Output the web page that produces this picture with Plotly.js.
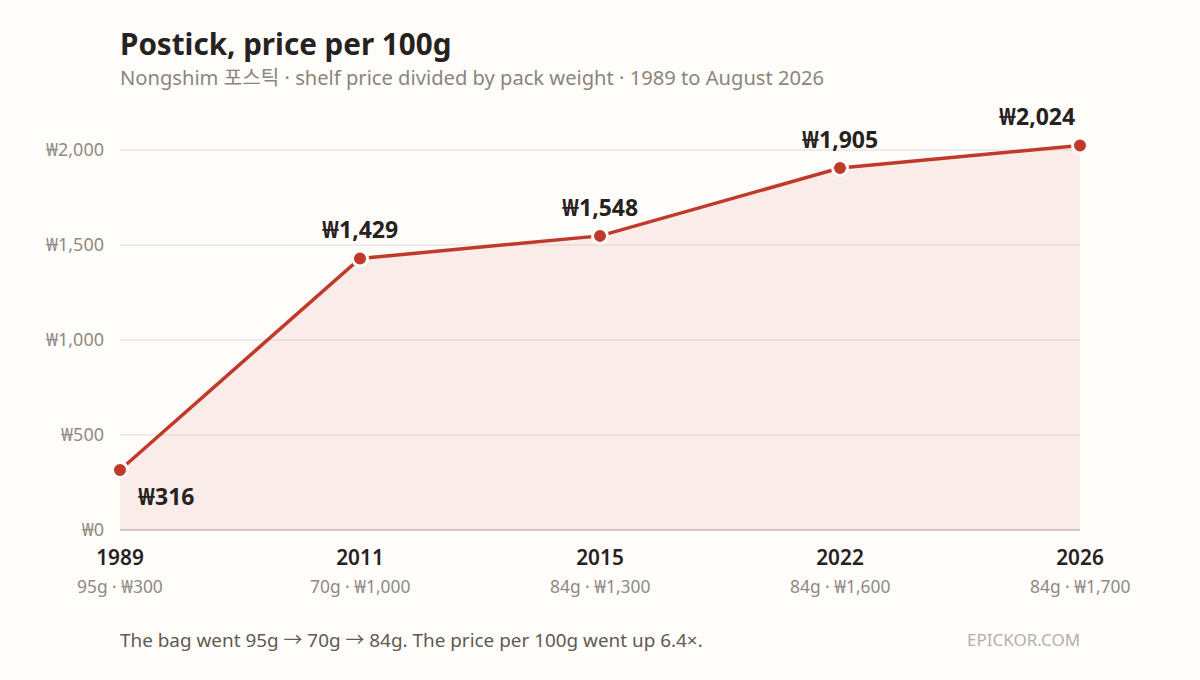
<!DOCTYPE html>
<html><head><meta charset="utf-8">
<script src="https://cdn.plot.ly/plotly-3.0.1.min.js"></script>
<style>html,body{margin:0;padding:0;background:#fffdfa}</style></head>
<body><div id="chart" style="width:1200px;height:680px"></div>
<script>
const years = ["1989","2011","2015","2022","2026"];
const pricePer100g = [316,1429,1548,1905,2024];
const priceLabels = ["₩316","₩1,429","₩1,548","₩1,905","₩2,024"];
const packInfo = ["95g · ₩300","70g · ₩1,000","84g · ₩1,300","84g · ₩1,600","84g · ₩1,700"];
const yTicks = [0,500,1000,1500,2000];
const yTickLabels = ["₩0","₩500","₩1,000","₩1,500","₩2,000"];
const labelOffsets = [[46,-26],[0,29],[0,29],[0,29],[-43,29]];

const FONT = '"Noto Sans","Noto Sans CJK KR",sans-serif';
const pY = py => (530-py)/410;

const anns = [];
years.forEach((y,i)=>{
  anns.push({x:i,y:pricePer100g[i],xref:'x',yref:'y',text:priceLabels[i],showarrow:false,
    xanchor:'center',yanchor:'middle',xshift:labelOffsets[i][0],yshift:labelOffsets[i][1],
    font:{family:FONT,size:23,color:'#26221f',weight:700}});
  anns.push({x:i,y:pY(586),xref:'x',yref:'paper',text:packInfo[i],showarrow:false,
    xanchor:'center',yanchor:'middle',font:{family:FONT,size:17.4,color:'#8f8a83'}});
});
anns.push({x:0,y:pY(77),xref:'paper',yref:'paper',xanchor:'left',yanchor:'middle',showarrow:false,xshift:-2,
  text:'Nongshim 포스틱 · shelf price divided by pack weight · 1989 to August 2026',
  font:{family:FONT,size:20.15,color:'#8a857e'}});
anns.push({x:0,y:pY(640),xref:'paper',yref:'paper',xanchor:'left',yanchor:'middle',showarrow:false,xshift:-2,
  text:'The bag went 95g → 70g → 84g. The price per 100g went up 6.4×.',
  font:{family:FONT,size:18.9,color:'#5f5a54'}});
anns.push({x:1,y:pY(639),xref:'paper',yref:'paper',xanchor:'right',yanchor:'middle',showarrow:false,xshift:2,
  text:'EPICKOR.COM',font:{family:FONT,size:17,color:'#b5b0a9'}});

Plotly.newPlot('chart',[{
  type:'scatter',mode:'lines+markers',x:years,y:pricePer100g,
  fill:'tozeroy',fillcolor:'rgba(192,57,43,0.08)',
  line:{color:'#c0392b',width:3.5},
  marker:{color:'#c0392b',size:15,line:{color:'#fffdfa',width:3}},
  cliponaxis:false,hoverinfo:'skip'
}],{
  width:1200,height:680,
  paper_bgcolor:'#fffdfa',plot_bgcolor:'#fffdfa',
  margin:{l:120,r:120,t:120,b:150,pad:0},
  showlegend:false,
  title:{text:'<b>Postick, price per 100g</b>',x:120/1200,xanchor:'left',xref:'container',
    y:1-45/680,yanchor:'middle',yref:'container',
    font:{family:FONT,size:29.6,color:'#26221f'}},
  xaxis:{type:'category',range:[0,4],tickmode:'array',tickvals:years,ticktext:years,
    showgrid:false,zeroline:false,showline:false,ticks:'outside',ticklen:9,tickcolor:'rgba(0,0,0,0)',
    tickfont:{family:FONT,size:20.8,color:'#26221f',weight:600}},
  yaxis:{range:[0,410/0.19],tickmode:'array',tickvals:yTicks,ticktext:yTickLabels,
    showgrid:true,gridcolor:'#f0ede8',gridwidth:1.5,
    zeroline:true,zerolinecolor:'#d6cfc7',zerolinewidth:2,showline:false,ticks:'',
    ticklabelstandoff:15,
    tickfont:{family:FONT,size:18,color:'#8f8a83'}},
  annotations:anns
},{displayModeBar:false,staticPlot:true});
</script></body></html>
